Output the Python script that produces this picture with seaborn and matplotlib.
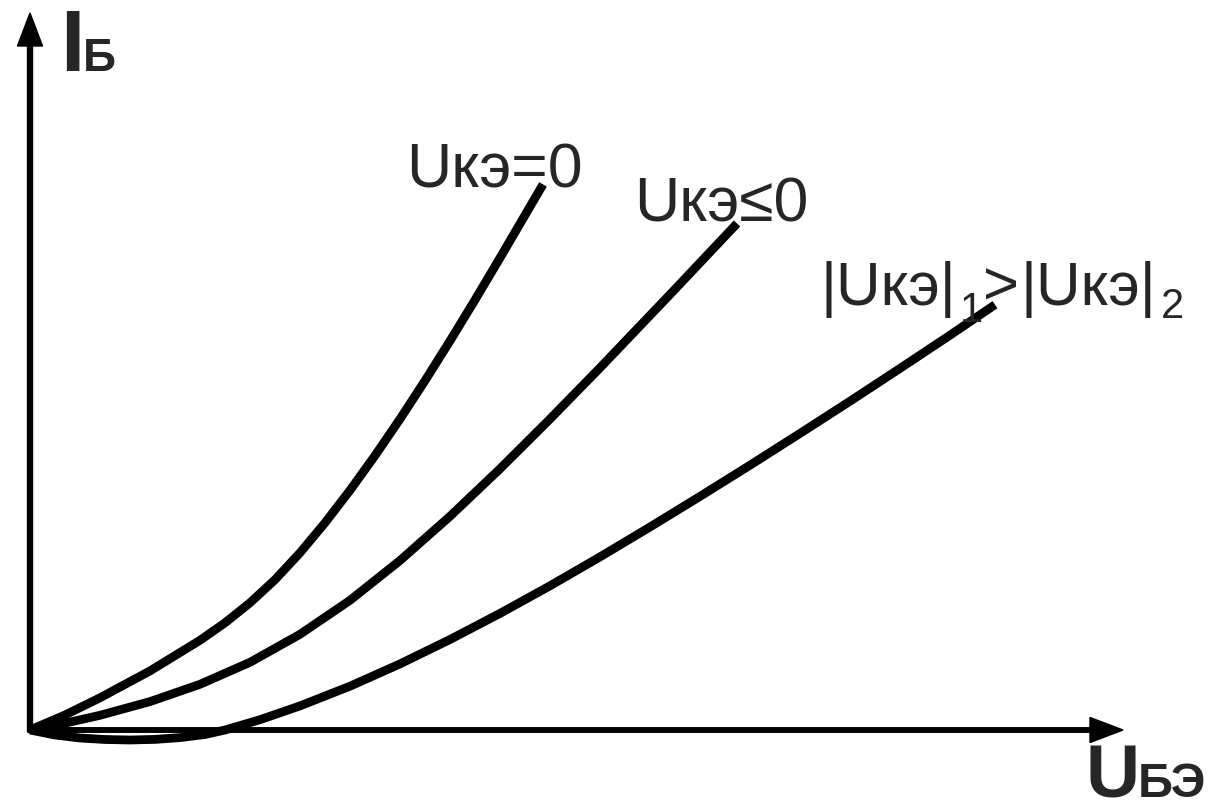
import numpy as np
import pandas as pd
import matplotlib
matplotlib.use("Agg")
import matplotlib.pyplot as plt
import seaborn as sns

# input characteristics of a transistor (arbitrary units)
u_ke0 = [0, 35, 70, 120, 170, 195, 220, 245, 270, 295, 320, 345, 370, 395,
         420, 445, 470, 513]
i_ke0 = [0, 15, 32.2, 59.1, 89.7, 107.2, 127.2, 150.3, 177.2, 207.2, 239.7,
         274.4, 311, 349.3, 389.1, 430.1, 472.1, 545.6]

u_kele0 = [0, 35, 70, 120, 170, 220, 270, 320, 370, 420, 470, 520, 570, 640,
           707]
i_kele0 = [0, 6.8, 14.7, 28.4, 45.7, 67.7, 95.7, 129.7, 169.5, 213.7, 261.2,
           311, 362.2, 435.5, 506.5]

u_ke12 = [0, 25, 50, 75, 100, 125, 150, 175, 195, 230, 270, 320, 370, 420,
          470, 520, 570, 620, 670, 720, 770, 820, 870, 920, 965]
i_ke12 = [0, -5, -8, -9.5, -10, -9.4, -7.6, -4.5, 0, 10.3, 24.1, 43.8, 66.1,
          90.5, 116.6, 144.2, 173.1, 203, 233.6, 264.8, 296.6, 328.8, 361.6,
          394.8, 425.3]

sns.set_style("white")
plt.rcParams['font.family'] = ['Liberation Sans', 'DejaVu Sans']

fig = plt.figure(figsize=(12.16, 8.07), dpi=100)
ax = fig.add_axes([0, 0, 1, 1])

for u, i in [(u_ke0, i_ke0), (u_kele0, i_kele0), (u_ke12, i_ke12)]:
    sns.lineplot(x=u, y=i, ax=ax, color='black', linewidth=6.3, sort=False,
                 estimator=None, solid_capstyle='butt', solid_joinstyle='round')

# axes with arrows
ax.arrow(0, -2, 0, 719, width=5, head_width=25, head_length=33,
         length_includes_head=True, color='black')
ax.arrow(-2, 0, 1095, 0, width=4.5, head_width=25, head_length=33,
         length_includes_head=True, color='black')

ax.set_xlim(-30, 1186)
ax.set_ylim(-77, 730)
ax.axis('off')

# axis labels
ax.text(30, 659, 'I', fontsize=63, fontweight='bold', ha='left', va='baseline')
ax.text(53, 659, 'Б', fontsize=33, fontweight='bold', ha='left', va='baseline')
ax.text(1056, -67, 'U', fontsize=54, fontweight='bold', ha='left', va='baseline')
ax.text(1108, -67, 'БЭ', fontsize=35, fontweight='bold', ha='left', va='baseline')

# curve labels
ax.text(376, 542, 'Uкэ=0', fontsize=45, ha='left', va='baseline')
ax.text(604, 508, 'Uкэ≤0', fontsize=45, ha='left', va='baseline')
ax.text(790, 425, '|Uкэ|', fontsize=44.5, ha='left', va='baseline')
ax.text(930, 408, '1', fontsize=30, ha='left', va='baseline')
ax.text(953, 425, '>', fontsize=44.5, ha='left', va='baseline')
ax.text(991, 425, '|Uкэ|', fontsize=44.5, ha='left', va='baseline')
ax.text(1131, 412, '2', fontsize=30, ha='left', va='baseline')

fig.savefig('out.png', dpi=100)
